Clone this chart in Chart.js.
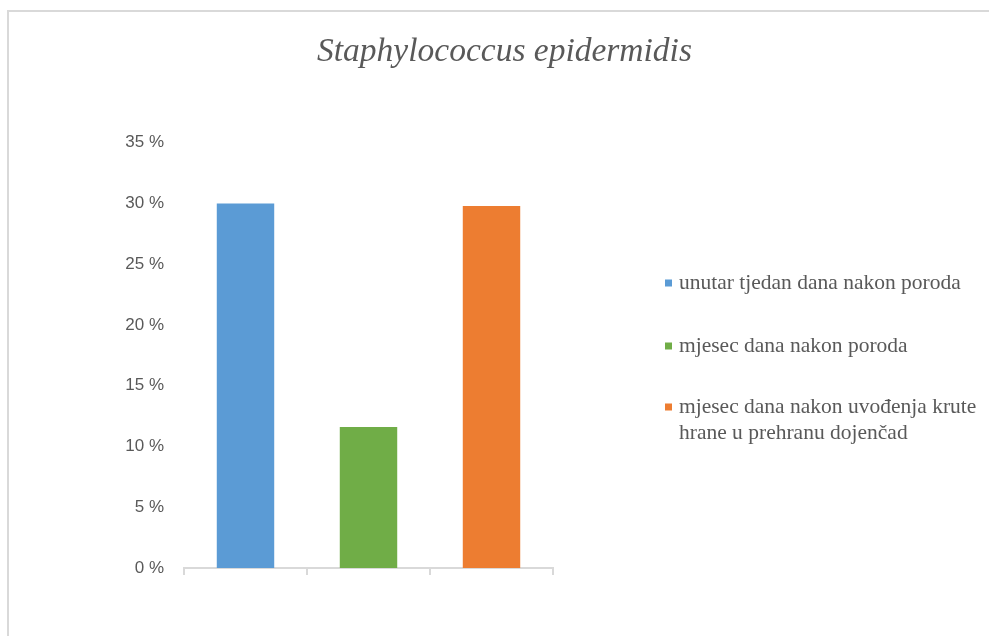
<!DOCTYPE html>
<html>
<head>
<meta charset="utf-8">
<script src="https://cdn.jsdelivr.net/npm/chart.js@4"></script>
<style>
  html, body { margin: 0; padding: 0; background: #ffffff; overflow: hidden; }
  #frame { position: absolute; left: 7px; top: 10px; width: 2000px; height: 2000px;
           border-left: 2px solid #d9d9d9; border-top: 2px solid #d9d9d9; }
  #wrap { position: absolute; left: 0; top: 0; width: 989px; height: 636px; }
</style>
</head>
<body>
<div id="frame"></div>
<div id="wrap"><canvas id="c" width="989" height="636"></canvas></div>
<script>
// ---- data ----
const chartTitle = "Staphylococcus epidermidis";
const categories = [
  "unutar tjedan dana nakon poroda",
  "mjesec dana nakon poroda",
  ["mjesec dana nakon uvođenja krute", "hrane u prehranu dojenčad"]
];
const values = [30, 11.6, 29.8];           // percent
const barColors = ["#5B9BD5", "#70AD47", "#ED7D31"];
const yTicks = [0, 5, 10, 15, 20, 25, 30, 35];

// ---- custom legend on the right ----
const sideLegend = {
  id: "sideLegend",
  afterDraw(chart, args, opts) {
    const ctx = chart.ctx;
    const labels = chart.data.labels;
    const colors = chart.data.datasets[0].backgroundColor;
    ctx.save();
    ctx.font = opts.font;
    ctx.textBaseline = "middle";
    ctx.textAlign = "left";
    labels.forEach((lab, i) => {
      const lines = Array.isArray(lab) ? lab : [lab];
      const y = opts.rows[i];
      ctx.fillStyle = colors[i];
      ctx.fillRect(opts.x, y - opts.box / 2, opts.box, opts.box);
      ctx.fillStyle = opts.color;
      lines.forEach((ln, j) => ctx.fillText(ln, opts.textX, y + j * opts.lineGap));
    });
    ctx.restore();
  }
};

new Chart(document.getElementById("c"), {
  type: "bar",
  data: {
    labels: categories,
    datasets: [{
      data: values,
      backgroundColor: barColors,
      borderWidth: 0,
      barPercentage: 0.467,
      categoryPercentage: 1.0
    }]
  },
  plugins: [sideLegend],
  options: {
    responsive: false,
    animation: false,
    devicePixelRatio: 1,
    layout: { padding: { left: 20, right: 0, top: 0, bottom: 0 } },
    plugins: {
      legend: { display: false },
      tooltip: { enabled: false },
      title: {
        display: true,
        text: chartTitle,
        color: "#595959",
        font: { family: "'Liberation Serif', 'Times New Roman', serif", size: 33.5, style: "italic", weight: "normal", lineHeight: 1.2 },
        padding: { top: 32, bottom: 70.5 }
      },
      sideLegend: {
        x: 665, textX: 679, box: 7,
        rows: [283, 346, 407],
        lineGap: 26.5,
        font: "21.5px 'Liberation Serif', 'Times New Roman', serif",
        color: "#595959"
      }
    },
    scales: {
      x: {
        type: "category",
        offset: true,
        grid: { display: true, drawOnChartArea: false, drawTicks: true, tickLength: 7, color: "#d9d9d9", lineWidth: 2, offset: true },
        border: { display: true, color: "#d9d9d9", width: 2 },
        ticks: { display: false },
        afterFit(scale) { scale.height = 68; }
      },
      y: {
        min: 0, max: 35,
        afterBuildTicks(scale) { scale.ticks = yTicks.map(v => ({ value: v })); },
        grid: { display: false, drawTicks: false },
        border: { display: false },
        ticks: {
          padding: 20,
          color: "#595959",
          font: { family: "'Liberation Sans', Arial, sans-serif", size: 17 },
          callback: (v) => v + " %"
        },
        afterFit(scale) { scale.width = 164; }
      },
      legendSpace: {
        type: "linear",
        position: "right",
        min: 0, max: 1,
        grid: { display: false, drawTicks: false },
        border: { display: false },
        ticks: { display: false },
        afterFit(scale) { scale.width = 436; }
      }
    }
  }
});
</script>
</body>
</html>
